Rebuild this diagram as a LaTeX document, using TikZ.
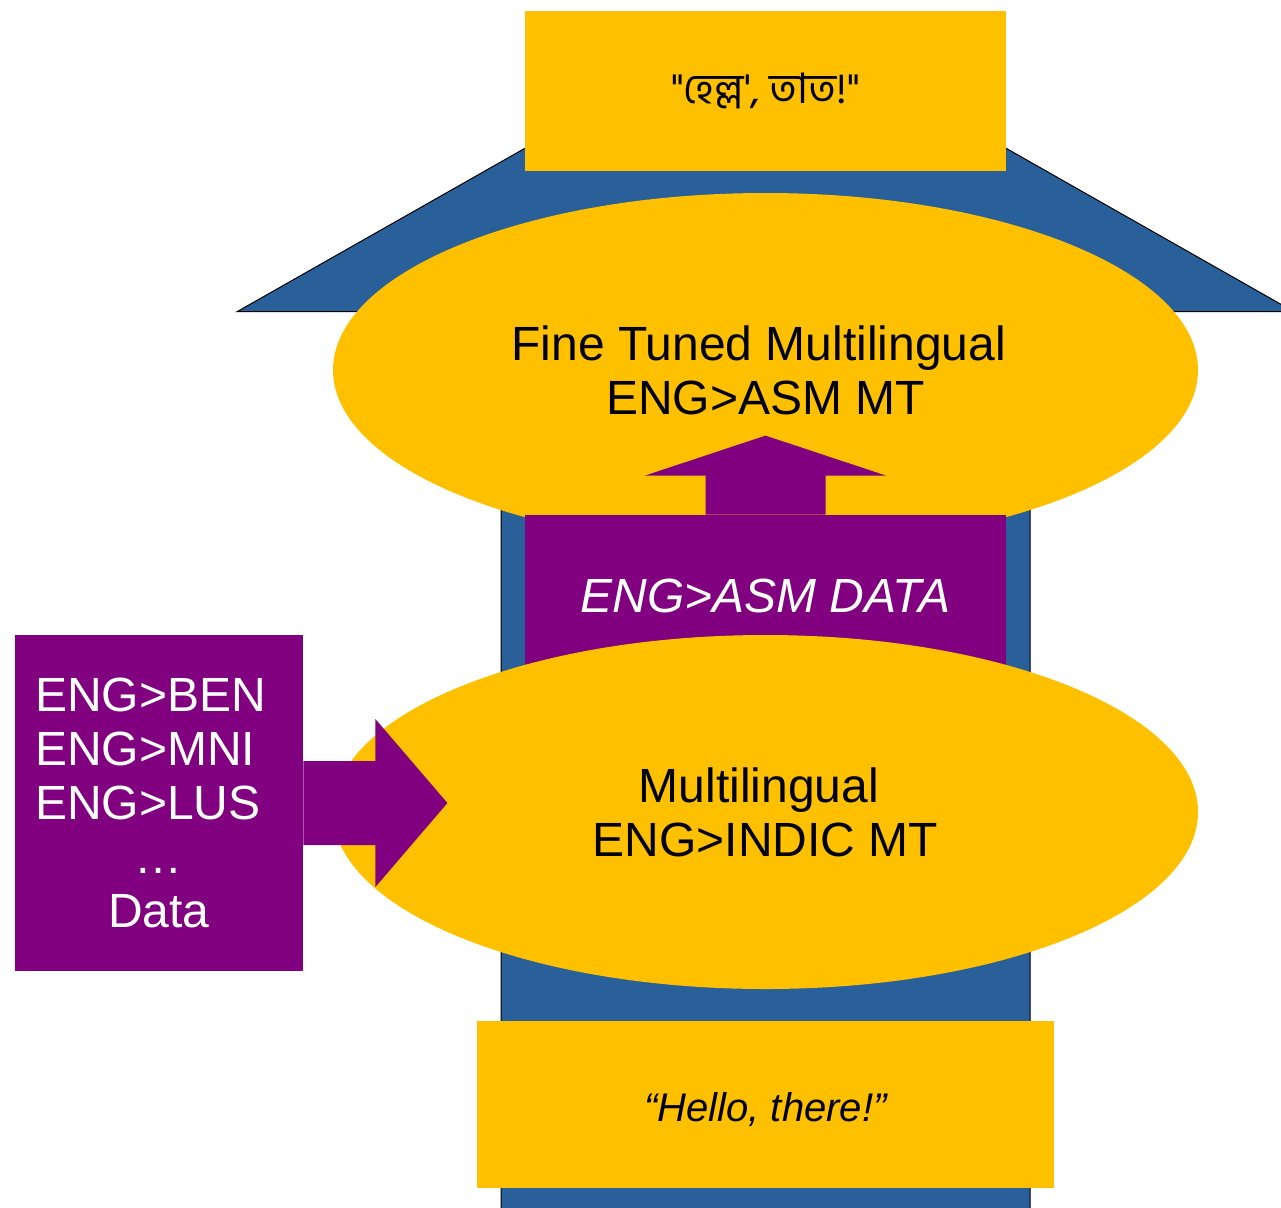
\documentclass[tikz,border=0pt]{standalone}
\usepackage{fontspec}
\setmainfont{Liberation Sans}
\newfontfamily\bnfont[Script=Bengali]{Hind Siliguri}
\usetikzlibrary{shapes.geometric}

\definecolor{amber}{HTML}{FFC000}
\definecolor{steel}{HTML}{2A6099}
\definecolor{plum}{HTML}{800080}

\tikzset{
  box/.style={rectangle, fill=amber, inner sep=0pt},
  blob/.style={ellipse, fill=amber, inner sep=0pt, align=center,
    minimum width=432.5pt, minimum height=177pt},
  databox/.style={rectangle, fill=plum, text=white, inner sep=0pt},
}

\begin{document}
\begin{tikzpicture}[x=0.5pt,y=-0.5pt,font=\fontsize{24}{27}\selectfont]

\clip (0,0) rectangle (1281,1207);

% big arrow behind everything
\filldraw[fill=steel, draw=black, line width=0.5pt] (501,1230) -- (501,311.7) -- (237,311.7)
  -- (765.5,11.7) -- (1294,311.7) -- (1030,311.7) -- (1030,1230) -- cycle;

\node[box, minimum width=240.5pt, minimum height=80pt] (tgt) at (765.5,91)
  {\bnfont\fontsize{21}{24}\selectfont "হেল্ল', তাত!"};

\node[blob] (ftmt) at (765.5,370) {Fine Tuned Multilingual\hspace*{6.7pt}\\ENG>ASM MT};

\node[databox, minimum width=240.5pt, minimum height=81pt] (asm) at (765.5,596)
  {\itshape ENG>ASM DATA};
\fill[plum] (asm.north) ++(-60,0) -- ++(0,-39) -- ++(-60.5,0) -- ++(120.5,-40)
  -- ++(120.5,40) -- ++(-60.5,0) -- ++(0,39) -- cycle;

\node[blob] (mmt) at (765.5,812) {Multilingual\hspace*{6.7pt}\\ENG>INDIC MT};

\node[databox, minimum width=144pt, minimum height=168pt, text width=124pt, align=left]
  (langs) at (159,803)
  {ENG>BEN\\ENG>MNI\\ENG>LUS\\\makebox[\linewidth]{…}\\\makebox[\linewidth]{Data}};
\fill[plum] (langs.east) ++(0,-42) -- ++(72,0) -- ++(0,-42) -- ++(72,84)
  -- ++(-72,84) -- ++(0,-42) -- ++(-72,0) -- cycle;

\node[box, minimum width=288.5pt, minimum height=83.5pt, text height=17.3pt, text depth=0pt]
  (src) at (765.5,1104.5) {\itshape\fontsize{20}{24}\selectfont “Hello, there!”};

\end{tikzpicture}
\end{document}
